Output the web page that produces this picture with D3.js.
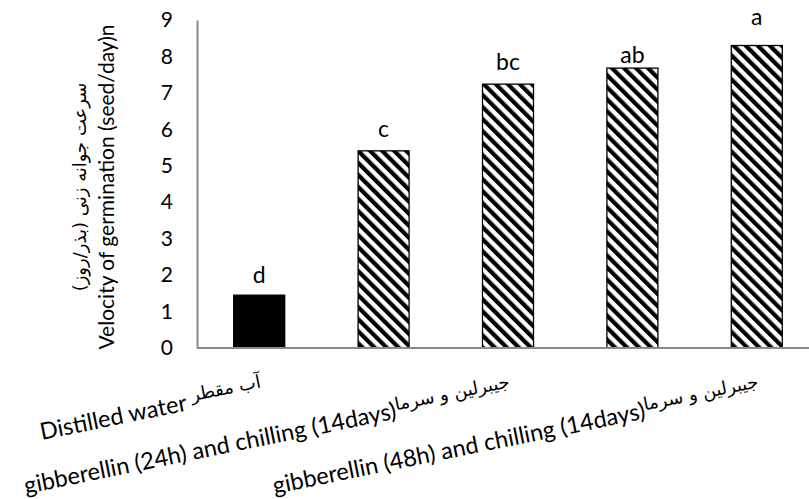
<!DOCTYPE html>
<html>
<head>
<meta charset="utf-8">
<script src="https://cdnjs.cloudflare.com/ajax/libs/d3/7.8.5/d3.min.js"></script>
<style>
  html, body { margin: 0; padding: 0; background: #fff; }
  svg { display: block; }
  text { font-family: Lato, "DejaVu Sans", sans-serif; fill: #000; }
</style>
</head>
<body>
<svg id="chart" width="809" height="499"></svg>
<script>
// Germination velocity per treatment
const categories = [
  { en: "Distilled water  ", fa: "آب مقطر" },
  { en: "", fa: "" },
  { en: "gibberellin (24h) and chilling (14days)", fa: "جیبرلین و سرما" },
  { en: "", fa: "" },
  { en: "gibberellin (48h) and chilling (14days)", fa: "جیبرلین و سرما" }
];
const values = [1.45, 5.41, 7.24, 7.68, 8.30];
const letters = ["d", "c", "bc", "ab", "a"];
const hatched = [false, true, true, true, true];
const yTicks = [0, 1, 2, 3, 4, 5, 6, 7, 8, 9];
const yTitleFa = "سرعت جوانه زنی (بذر/روز)";
const yTitleEn = "Velocity of germination  (seed/day)n";

// gap between each bar top and its letter (layout)
const letterLift = [12, 14, 14, 5, 21];

const svg = d3.select("#chart");
const idx = d3.range(values.length);

const x = d3.scaleBand()
  .domain(idx)
  .range([197, 819])
  .paddingInner(0.59)
  .paddingOuter(0.295);

const y = d3.scaleLinear().domain([0, 9]).range([348, 20]);

// downward diagonal stripe fill
const defs = svg.append("defs");
const pat = defs.append("pattern")
  .attr("id", "stripes")
  .attr("patternUnits", "userSpaceOnUse")
  .attr("width", 8.5).attr("height", 8.5)
  .attr("patternTransform", "rotate(-45)");
pat.append("rect").attr("width", 8.5).attr("height", 8.5).attr("fill", "#fff");
pat.append("rect").attr("width", 4.2).attr("height", 8.5).attr("fill", "#000");

// y axis
const yAxis = d3.axisLeft(y).tickValues(yTicks).tickSize(0).tickPadding(24);
const gy = svg.append("g").attr("transform", "translate(197,0)").call(yAxis);
gy.select(".domain").attr("stroke", "#898989").attr("stroke-width", 2);
gy.selectAll(".tick text")
  .style("font-family", "Lato, sans-serif")
  .style("font-size", "21px")
  .attr("fill", "#000");

// bars
svg.append("g").selectAll("rect")
  .data(idx)
  .join("rect")
  .attr("x", i => x(i))
  .attr("y", i => y(values[i]))
  .attr("width", x.bandwidth())
  .attr("height", i => y(0) - y(values[i]))
  .attr("fill", i => hatched[i] ? "url(#stripes)" : "#000")
  .attr("stroke", "#000")
  .attr("stroke-width", 1.3);

// x baseline
svg.append("line")
  .attr("x1", 197).attr("x2", 819)
  .attr("y1", y(0)).attr("y2", y(0))
  .attr("stroke", "#898989").attr("stroke-width", 2);

// significance letters
svg.append("g").selectAll("text")
  .data(idx)
  .join("text")
  .attr("x", i => x(i) + x.bandwidth() / 2)
  .attr("y", i => y(values[i]) - letterLift[i])
  .attr("text-anchor", "middle")
  .style("font-family", "Lato, sans-serif")
  .style("font-size", "23px")
  .text(i => letters[i]);

// category labels (tilted)
const lab = svg.append("g").selectAll("text")
  .data(idx.filter(i => categories[i].en))
  .join("text")
  .attr("text-anchor", "end")
  .attr("direction", "ltr")
  .attr("transform", i => `translate(${x(i) + x.bandwidth() / 2 + 4},395) rotate(-11.5)`);
lab.append("tspan")
  .style("font-size", "23.5px")
  .text(i => categories[i].en + "\u200E");
lab.append("tspan")
  .attr("dy", -8)
  .style("font-family", "'DejaVu Sans', sans-serif")
  .style("font-size", "18px")
  .text(i => "\u2067" + categories[i].fa + "\u2069");

// y title
const yt = svg.append("text")
  .attr("transform", "translate(0,187) rotate(-90)")
  .attr("text-anchor", "middle");
yt.append("tspan")
  .attr("x", 0).attr("y", 86)
  .style("font-family", "'DejaVu Sans', sans-serif")
  .style("font-size", "18px")
  .text(yTitleFa);
yt.append("tspan")
  .attr("x", 0).attr("y", 114)
  .style("font-size", "21px")
  .text(yTitleEn);
</script>
</body>
</html>
